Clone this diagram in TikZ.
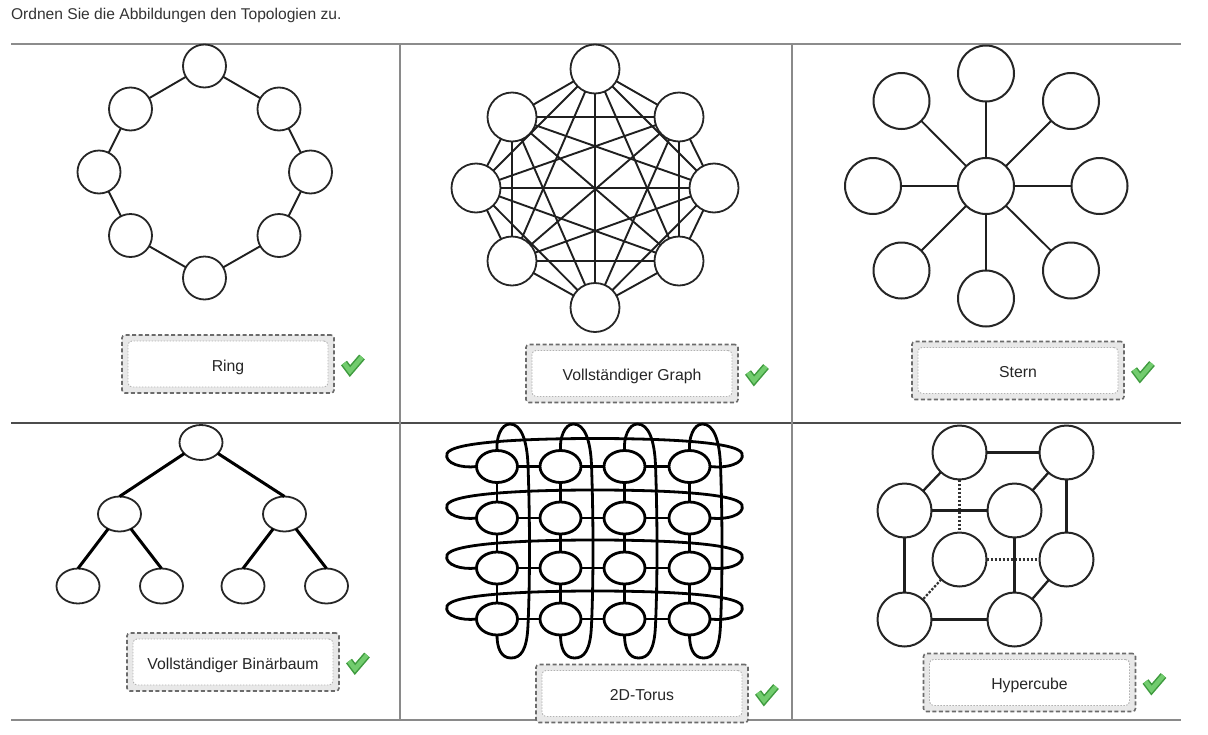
\documentclass[tikz,border=0pt]{standalone}
\usepackage{fontspec}
\setmainfont{Liberation Sans}
\usetikzlibrary{shapes.geometric,calc}
\definecolor{chkdark}{HTML}{3E9A3E}
\definecolor{chklight}{HTML}{72CC6E}
\definecolor{gridgray}{HTML}{8A8A8A}
\begin{document}
\begin{tikzpicture}[x=1pt,y=-1pt,
  every node/.style={inner sep=0pt, outer sep=0pt},
  ln/.style={draw=black!88, line width=1.9pt},
  rnode/.style={circle, draw=black!85, line width=1.8pt, fill=white, minimum size=43pt},
  gnode/.style={circle, draw=black!85, line width=1.8pt, fill=white, minimum size=49pt},
  snode/.style={circle, draw=black!85, line width=2pt, fill=white, minimum size=56pt},
  bnode/.style={ellipse, draw=black!85, line width=1.8pt, fill=white, minimum width=43pt, minimum height=35pt},
  bedge/.style={draw=black, line width=3pt},
  tnode/.style={ellipse, draw=black, line width=2.8pt, fill=white, minimum width=41pt, minimum height=32pt},
  tline/.style={draw=black, line width=2.8pt},
  hnode/.style={circle, draw=black!85, line width=2pt, fill=white, minimum size=54pt},
  hline/.style={draw=black!88, line width=2.3pt},
  hdash/.style={draw=black!80, line width=2.2pt, dash pattern=on 2.4pt off 1.6pt},
  gridline/.style={draw=gridgray, line width=1.8pt},
  lblout/.style={draw=black!58, dash pattern=on 4pt off 2.5pt, line width=1.6pt, fill=black!9, rounded corners=3pt, minimum width=212pt, minimum height=58pt},
  lblin/.style={draw=black!30, dash pattern=on 1.5pt off 1.5pt, line width=0.9pt, fill=white, rounded corners=4pt, minimum width=200pt, minimum height=46pt, text height=15pt, text depth=1pt, font=\fontsize{15.8}{18}\selectfont, text=black!85},
  chk/.pic={
    \draw[draw=chkdark, line width=7.5pt, line join=miter, miter limit=10] (-8,-1) -- (-2,7) -- (10,-7);
    \draw[draw=chklight, line width=4.5pt, line join=miter, miter limit=10] (-8,-1) -- (-2,7) -- (10,-7);
  }
]
\useasboundingbox (0,0) rectangle (1208,734);

% title
\node[anchor=west, text=black!80, font=\fontsize{15.6}{18}\selectfont] (title) at (11,15) {Ordnen Sie die Abbildungen den Topologien zu.};

% grid
\coordinate (gTL) at (11,44);
\coordinate (gTR) at (1181,44);
\coordinate (gML) at (11,423);
\coordinate (gMR) at (1181,423);
\coordinate (gBL) at (11,720);
\coordinate (gBR) at (1181,720);
\coordinate (v1t) at (400,44);
\coordinate (v1b) at (400,720);
\coordinate (v2t) at (792,44);
\coordinate (v2b) at (792,720);
\draw[gridline, draw=black!45] (gTL) -- (gTR);
\draw[gridline, draw=black!70, line width=1.3pt] (gML) -- (gMR);
\draw[gridline] (gBL) -- (gBR);
\draw[gridline] (v1t) -- (v1b);
\draw[gridline] (v2t) -- (v2b);

% ---------- Ring ----------
\node[rnode] (r1) at (204.5,66) {};
\node[rnode] (r2) at (279,109) {};
\node[rnode] (r3) at (310.5,172) {};
\node[rnode] (r4) at (279,235.5) {};
\node[rnode] (r5) at (204.5,278) {};
\node[rnode] (r6) at (130.5,235.5) {};
\node[rnode] (r7) at (99,172) {};
\node[rnode] (r8) at (130.5,109) {};
\foreach \a/\b in {1/2,2/3,3/4,4/5,5/6,6/7,7/8,8/1}
  \draw[ln] (r\a) -- (r\b);

% ---------- Complete graph ----------
\node[gnode] (g1) at (595,69) {};
\node[gnode] (g2) at (679,117) {};
\node[gnode] (g3) at (714,188) {};
\node[gnode] (g4) at (679,261) {};
\node[gnode] (g5) at (595,307.5) {};
\node[gnode] (g6) at (512,261) {};
\node[gnode] (g7) at (476,188) {};
\node[gnode] (g8) at (512,117) {};
\foreach \a in {1,...,7} {
  \pgfmathtruncatemacro{\s}{\a+1}
  \foreach \b in {\s,...,8}
    \draw[ln] (g\a) -- (g\b);
}

% ---------- Star ----------
\node[snode] (s0) at (986,186) {};
\node[snode] (s1) at (986,73.5) {};
\node[snode] (s2) at (1071,101) {};
\node[snode] (s3) at (1099.5,186) {};
\node[snode] (s4) at (1071,270.5) {};
\node[snode] (s5) at (986,298.5) {};
\node[snode] (s6) at (901.5,270.5) {};
\node[snode] (s7) at (873,186) {};
\node[snode] (s8) at (901.5,101) {};
\foreach \a in {1,...,8}
  \draw[ln] (s0) -- (s\a);

% ---------- Binary tree ----------
\node[bnode] (b1) at (201,442.5) {};
\node[bnode] (b2) at (119.5,514) {};
\node[bnode] (b3) at (284.5,514) {};
\node[bnode] (b4) at (78,586) {};
\node[bnode] (b5) at (161.5,586) {};
\node[bnode] (b6) at (243,586) {};
\node[bnode] (b7) at (326.5,586) {};
\draw[bedge] (b1) -- (b2.north);
\draw[bedge] (b1) -- (b3.north);
\draw[bedge] (b2) -- (b4.north);
\draw[bedge] (b2) -- (b5.north);
\draw[bedge] (b3) -- (b6.north);
\draw[bedge] (b3) -- (b7.north);

% ---------- 2D torus ----------
\foreach \r/\Y in {1/466.5,2/518,3/568,4/619}
  \foreach \c/\X in {1/497,2/560.5,3/624.5,4/689.5}
    \node[tnode] (t\r-\c) at (\X,\Y) {};
\foreach \r in {1,...,4} {
  \draw[tline] (t\r-1) -- (t\r-2);
  \draw[tline] (t\r-2) -- (t\r-3);
  \draw[tline] (t\r-3) -- (t\r-4);
}
\foreach \c in {1,...,4} {
  \draw[tline] (t1-\c) -- (t2-\c);
  \draw[tline] (t2-\c) -- (t3-\c);
  \draw[tline] (t3-\c) -- (t4-\c);
}
\foreach \r/\Y in {1/466.5,2/518,3/568,4/619}
  \draw[tline] (t\r-1.west) .. controls (462,{\Y+2}) and (444,{\Y-3}) .. (447,{\Y-13})
     .. controls (452,{\Y-25}) and (530,{\Y-28}) .. (595,{\Y-28})
     .. controls (660,{\Y-28}) and (738,{\Y-25}) .. (742,{\Y-13})
     .. controls (745,{\Y-3}) and (727,{\Y+2}) .. (t\r-4.east);
\foreach \c/\X in {1/497,2/560.5,3/624.5,4/689.5}
  \draw[tline] (t1-\c.north) .. controls ({\X-1},438) and ({\X+4},424) .. ({\X+13},424)
     .. controls ({\X+24},424) and ({\X+30},440) .. ({\X+31},465)
     .. controls ({\X+33},520) and ({\X+33},580) .. ({\X+31},625)
     .. controls ({\X+30},650) and ({\X+24},658) .. ({\X+14},658)
     .. controls ({\X+4},658) and ({\X},648) .. (t4-\c.south);

% ---------- Hypercube ----------
\node[hnode] (h1) at (959.5,452.5) {};
\node[hnode] (h2) at (1066.5,452.5) {};
\node[hnode] (h3) at (904.5,510.5) {};
\node[hnode] (h4) at (1014.5,510.5) {};
\node[hnode] (h5) at (959.5,559.5) {};
\node[hnode] (h6) at (1066.5,559.5) {};
\node[hnode] (h7) at (904.5,619.5) {};
\node[hnode] (h8) at (1014.5,619.5) {};
\draw[hdash] (h1) -- (h5);
\draw[hdash] (h5) -- (h6);
\draw[hdash] (h5) -- (h7);
\draw[hline] (h1) -- (h2);
\draw[hline] (h1) -- (h3);
\draw[hline] (h2) -- (h4);
\draw[hline] (h3) -- (h4);
\draw[hline] (h2) -- (h6);
\draw[hline] (h3) -- (h7);
\draw[hline] (h4) -- (h8);
\draw[hline] (h7) -- (h8);
\draw[hline] (h6) -- (h8);

% ---------- Labels ----------
\node[lblout] (boxring) at (228,364) {};
\node[lblin] (lblring) at (boxring.center) {Ring};
\pic at ($(boxring.east)+(18,0)$) {chk};

\node[lblout] (boxgraph) at (632,373.5) {};
\node[lblin] (lblgraph) at (boxgraph.center) {Vollständiger Graph};
\pic at ($(boxgraph.east)+(18,0)$) {chk};

\node[lblout] (boxstar) at (1018,370.5) {};
\node[lblin] (lblstar) at (boxstar.center) {Stern};
\pic at ($(boxstar.east)+(18,0)$) {chk};

\node[lblout] (boxtree) at (233,662) {};
\node[lblin] (lbltree) at (boxtree.center) {Vollständiger Binärbaum};
\pic at ($(boxtree.east)+(18,0)$) {chk};

\node[lblout] (boxtorus) at (642,693.5) {};
\node[lblin] (lbltorus) at (boxtorus.center) {2D-Torus};
\pic at ($(boxtorus.east)+(18,0)$) {chk};

\node[lblout] (boxcube) at (1029.5,682.5) {};
\node[lblin] (lblcube) at (boxcube.center) {Hypercube};
\pic at ($(boxcube.east)+(18,0)$) {chk};
\end{tikzpicture}
\end{document}
